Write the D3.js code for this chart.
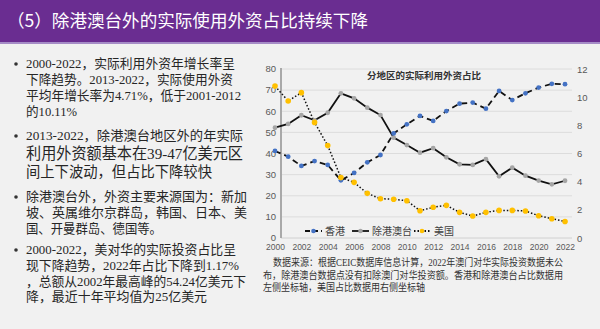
<!DOCTYPE html>
<html><head><meta charset="utf-8">
<script src="https://cdn.jsdelivr.net/npm/d3@7"></script>
<style>
html,body{margin:0;padding:0;background:#f1f1f1;}
svg{display:block;}
</style></head>
<body>
<svg id="c" width="600" height="329"></svg>
<script>
const years = d3.range(2000, 2023);
const hongKong = [41.2,38.5,34.1,36.4,34.6,27.3,30.8,35.8,39.3,49.5,53.8,57.8,55.4,60.1,63.6,64.1,61.2,69.6,65.3,68.5,71.2,73.0,72.8];
const exHKMT  = [52.2,54.0,58.1,55.7,59.3,68.5,66.1,61.7,58.2,47.5,44.0,40.4,42.5,38.2,34.9,34.6,37.3,29.2,33.3,29.5,27.2,25.4,27.1];
const usa     = [10.79,9.73,10.32,8.21,6.56,4.29,3.95,3.17,2.79,2.75,2.65,1.94,2.18,2.32,1.82,1.56,1.82,1.96,1.96,1.92,1.58,1.37,1.17];
const leftTicks = [0,10,20,30,40,50,60,70,80];
const rightTicks = [0,2,4,6,8,10,12];
const xTicks = [2000,2002,2004,2006,2008,2010,2012,2014,2016,2018,2020,2022];
const seriesNames = ["香港","除港澳台","美国"];
const titleText = "（5）除港澳台外的实际使用外资占比持续下降";
const chartTitle = "分地区的实际利用外资占比";
const bullets = [
  [["2000-2022，实际利用外资年增长率呈",13,235],["下降趋势。2013-2022，实际使用外资",13,233],["平均年增长率为4.71%，低于2001-2012",13,241],["的10.11%",13,77]],
  [["2013-2022，除港澳台地区外的年实际",13,243],["利用外资额基本在39-47亿美元区",15.5,243],["间上下波动，但占比下降较快",15,212]],
  [["除港澳台外，外资主要来源国为：新加",13,247],["坡、英属维尔京群岛，韩国、日本、美",13,247],["国、开曼群岛、德国等。",13,162]],
  [["2000-2022，美对华的实际投资占比呈",13,236],["现下降趋势，2022年占比下降到1.17%",13,239],["，总额从2002年最高峰的54.24亿美元下",13,246],["降，最近十年平均值为25亿美元",13,207]]
];
const bulletY = [[68,84,100,116],[140,159,177],[201,217,233],[254,270,286,301]];
const footLines = [
  ["数据来源：根据CEIC数据库信息计算，2022年澳门对华实际投资数据未公",273,266,290],
  ["布，除港澳台数据点没有扣除澳门对华投资额。香港和除港澳台占比数据用",263,279,300],
  ["左侧坐标轴，美国占比数据用右侧坐标轴",263,291,162]
];

const svg = d3.select("#c");
const serif = "'Liberation Serif','Noto Sans CJK SC',serif";
const sans = "'Liberation Sans','Noto Sans CJK SC',sans-serif";

// header
svg.append("rect").attr("x",0).attr("y",0).attr("width",600).attr("height",42).attr("fill","#6a2d91");
svg.append("rect").attr("x",0).attr("y",42).attr("width",600).attr("height",2).attr("fill","#a58cc6");
svg.append("text").attr("x",7).attr("y",27).attr("fill","#fff")
  .attr("font-family","'Noto Sans CJK SC',sans-serif").attr("font-size",17.5)
  .attr("textLength",361).attr("lengthAdjust","spacingAndGlyphs").text(titleText);

// bullets
bullets.forEach((b,i)=>{
  svg.append("circle").attr("cx",16).attr("cy",bulletY[i][0]-4).attr("r",1.8).attr("fill","#333");
  b.forEach((ln,j)=>{
    svg.append("text").attr("x",26).attr("y",bulletY[i][j]).attr("fill","#262626")
      .attr("font-family",serif).attr("font-size",ln[1])
      .attr("textLength",ln[2]-26).attr("lengthAdjust","spacingAndGlyphs").text(ln[0]);
  });
});

// chart
const x = d3.scaleLinear().domain([2000,2022]).range([275,565]);
const yL = d3.scaleLinear().domain([0,80]).range([238,69]);
const yR = d3.scaleLinear().domain([0,12]).range([238,69]);

const g = svg.append("g");
g.selectAll(".grid").data(leftTicks.filter(d=>d>0)).join("line")
  .attr("x1",281).attr("x2",572).attr("y1",d=>yL(d)).attr("y2",d=>yL(d))
  .attr("stroke","#dcdcdc").attr("stroke-width",1);
g.append("line").attr("x1",281).attr("x2",572).attr("y1",yL(0)).attr("y2",yL(0)).attr("stroke","#d0d0d0");
g.append("line").attr("x1",281).attr("x2",281).attr("y1",68).attr("y2",238).attr("stroke","#a9a9a9").attr("stroke-width",2);

const axL = d3.axisLeft(yL).tickValues(leftTicks).tickSize(0).tickPadding(0);
const gl = g.append("g").attr("transform","translate(276,0)").call(axL);
const axR = d3.axisRight(yR).tickValues(rightTicks).tickSize(0).tickPadding(0);
const gr = g.append("g").attr("transform","translate(577,0)").call(axR);
const axB = d3.axisBottom(x).tickValues(xTicks).tickFormat(d3.format("d")).tickSize(0).tickPadding(0);
const gb = g.append("g").attr("transform","translate(0,243.5)").call(axB);
[gl,gr,gb].forEach(a=>{
  a.select(".domain").remove();
  a.selectAll("text").attr("fill","#595959").attr("font-family",sans).attr("font-size",9.5);
});
gl.selectAll("text").attr("dy","0.3em");
gb.selectAll("text").attr("font-size",8.5).attr("dy","0.75em");

svg.append("text").attr("x",424).attr("y",79).attr("text-anchor","middle")
  .attr("font-family","'Noto Sans CJK SC',sans-serif").attr("font-weight","bold").attr("font-size",9.5)
  .attr("fill","#333").text(chartTitle);

const lineL = d3.line().x((d,i)=>x(years[i])).y(d=>yL(d));
const lineR = d3.line().x((d,i)=>x(years[i])).y(d=>yR(d));

g.append("path").attr("d",lineL(exHKMT)).attr("fill","none").attr("stroke","#111").attr("stroke-width",1.8);
g.append("path").attr("d",lineL(hongKong)).attr("fill","none").attr("stroke","#111").attr("stroke-width",1.8).attr("stroke-dasharray","6,4");
g.append("path").attr("d",lineR(usa)).attr("fill","none").attr("stroke","#111").attr("stroke-width",1.5).attr("stroke-dasharray","1.5,2");

g.selectAll(".p2").data(exHKMT).join("circle").attr("cx",(d,i)=>x(years[i])).attr("cy",d=>yL(d)).attr("r",2.4).attr("fill","#a5a5a5");
g.selectAll(".p1").data(hongKong).join("circle").attr("cx",(d,i)=>x(years[i])).attr("cy",d=>yL(d)).attr("r",2.4).attr("fill","#4472c4");
g.selectAll(".p3").data(usa).join("circle").attr("cx",(d,i)=>x(years[i])).attr("cy",d=>yR(d)).attr("r",2.8).attr("fill","#ffc000");

// legend
const leg = [
  {name:seriesNames[0],x1:305,x2:322,tx:325,dash:"5,3",col:"#4472c4"},
  {name:seriesNames[1],x1:352,x2:369,tx:372,dash:null,col:"#a5a5a5"},
  {name:seriesNames[2],x1:414,x2:430,tx:434,dash:"1.5,2",col:"#ffc000"}
];
leg.forEach(l=>{
  const ln = svg.append("line").attr("x1",l.x1).attr("x2",l.x2).attr("y1",231).attr("y2",231).attr("stroke","#111").attr("stroke-width",1.8);
  if(l.dash) ln.attr("stroke-dasharray",l.dash);
  svg.append("circle").attr("cx",(l.x1+l.x2)/2).attr("cy",231).attr("r",2.3).attr("fill",l.col);
  svg.append("text").attr("x",l.tx).attr("y",235).attr("font-family","'Noto Sans CJK SC',sans-serif")
    .attr("font-size",10).attr("fill","#404040").text(l.name);
});

// footnote
footLines.forEach(f=>{
  svg.append("text").attr("x",f[1]).attr("y",f[2]).attr("font-family",serif).attr("font-size",10)
    .attr("fill","#333").attr("textLength",f[3]).attr("lengthAdjust","spacingAndGlyphs").text(f[0]);
});
</script>
</body></html>
